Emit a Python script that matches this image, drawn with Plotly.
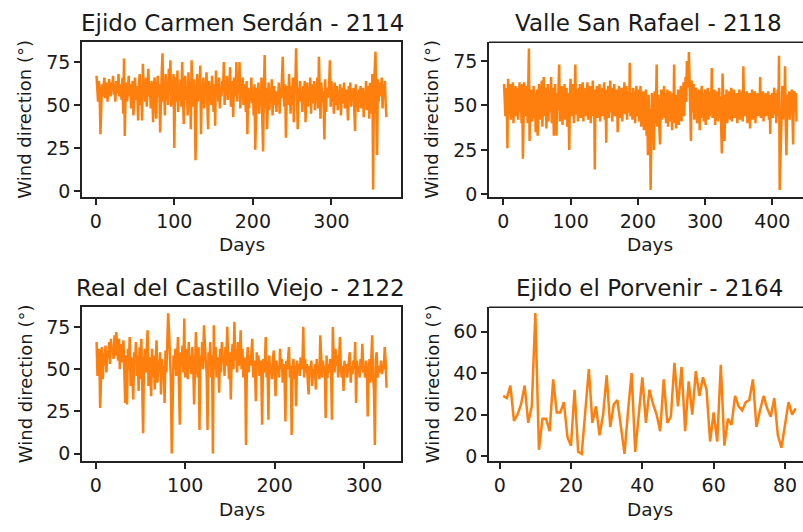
import plotly.graph_objects as go

# ---------------- data ----------------
titles = ["Ejido Carmen Serdán - 2114", "Valle San Rafael - 2118",
          "Real del Castillo Viejo - 2122", "Ejido el Porvenir - 2164"]

carmen_serdan = [
    67, 60, 52, 64, 58, 33, 49, 62, 55, 60,
    66, 54, 60, 63, 52, 58, 65, 61, 55, 63,
    59, 67, 56, 62, 52, 64, 60, 57, 68, 55,
    62, 58, 53, 66, 45, 77, 32, 58, 63, 52,
    60, 67, 55, 62, 48, 58, 64, 44, 59, 66,
    53, 61, 57, 41, 63, 68, 50, 59, 41, 74,
    58, 62, 52, 66, 49, 60, 71, 55, 62, 48,
    64, 57, 40, 61, 66, 52, 42, 59, 67, 55,
    62, 34, 57, 69, 80, 52, 62, 44, 68, 56,
    60, 50, 71, 58, 76, 49, 63, 55, 68, 25,
    59, 66, 52, 70, 46, 61, 57, 65, 49, 75,
    56, 39, 62, 67, 53, 60, 44, 69, 57, 63,
    36, 76, 58, 49, 65, 55, 18, 61, 68, 52,
    63, 57, 73, 33, 60, 55, 66, 48, 62, 57,
    69, 51, 36, 64, 58, 61, 50, 67, 55, 46,
    62, 38, 70, 57, 63, 52, 66, 48, 60, 55,
    64, 59, 75, 50, 61, 56, 67, 53, 62, 58,
    72, 49, 64, 57, 43, 66, 60, 55, 75, 52,
    63, 58, 75, 48, 61, 55, 66, 50, 59, 62,
    46, 64, 33, 60, 48, 57, 52, 66, 51, 58,
    44, 62, 24, 55, 60, 50, 63, 45, 58, 52,
    66, 40, 23, 57, 79, 48, 60, 36, 55, 63,
    47, 59, 53, 65, 44, 56, 61, 50, 58, 46,
    58, 52, 63, 45, 60, 54, 66, 78, 57, 49,
    62, 31, 55, 61, 50, 68, 57, 45, 61, 53,
    66, 40, 59, 62, 83, 48, 36, 60, 55, 64,
    52, 58, 46, 61, 55, 64, 40, 57, 63, 49,
    60, 54, 66, 45, 62, 57, 51, 64, 47, 59,
    53, 66, 48, 78, 56, 42, 63, 55, 58, 50,
    30, 65, 46, 60, 54, 57, 62, 76, 49, 64,
    52, 59, 45, 63, 56, 50, 61, 47, 58, 53,
    62, 44, 57, 60, 51, 63, 48, 56, 59, 52,
    41, 61, 55, 63, 49, 58, 53, 60, 45, 35,
    62, 50, 57, 46, 59, 53, 61, 48, 55, 60,
    43, 58, 52, 64, 47, 56, 61, 42, 63, 55,
    45, 68, 1, 60, 70, 81, 47, 21, 65, 52,
    63, 55, 58, 66, 48, 62, 57, 64, 50, 43,
]

valle_san_rafael = [
    62, 50, 44, 60, 52, 26, 65, 45, 58, 62,
    42, 60, 50, 63, 40, 57, 48, 61, 44, 59,
    60, 42, 56, 63, 46, 60, 40, 62, 20, 54,
    63, 44, 58, 48, 61, 40, 55, 82, 30, 57,
    46, 59, 41, 55, 61, 43, 57, 35, 50, 59,
    33, 55, 62, 42, 58, 46, 64, 38, 54, 66,
    44, 57, 60, 37, 50, 62, 41, 58, 46, 61,
    66, 40, 55, 60, 33, 50, 62, 43, 33, 57,
    47, 60, 73, 41, 56, 45, 61, 39, 58, 48,
    62, 42, 55, 60, 38, 57, 46, 25, 55, 65,
    44, 58, 48, 62, 40, 56, 73, 45, 59, 50,
    41, 60, 50, 62, 43, 57, 48, 63, 41, 58,
    46, 60, 44, 56, 63, 42, 58, 48, 61, 40,
    57, 47, 64, 44, 56, 14, 59, 48, 61, 43,
    57, 49, 62, 41, 58, 46, 60, 44, 56, 63,
    42, 55, 29, 59, 47, 61, 43, 56, 64, 46,
    57, 41, 60, 48, 62, 44, 56, 46, 59, 35,
    55, 61, 43, 57, 48, 60, 41, 58, 47, 63,
    45, 56, 61, 42, 58, 48, 46, 74, 44, 57,
    50, 42, 60, 47, 58, 40, 56, 61, 44, 55,
    59, 41, 54, 61, 38, 57, 46, 58, 36, 55,
    44, 59, 33, 50, 22, 56, 41, 48, 2.5, 43,
    57, 34, 50, 25, 58, 40, 48, 73, 38, 56,
    43, 32, 28, 52, 59, 42, 56, 46, 61, 43,
    57, 40, 53, 59, 38, 56, 45, 58, 41, 54,
    36, 57, 43, 73, 40, 53, 37, 56, 42, 59,
    39, 55, 45, 61, 41, 58, 48, 63, 44, 59,
    66, 52, 75, 70, 60, 80, 66, 55, 30, 64,
    58, 46, 62, 42, 57, 48, 60, 40, 56, 45,
    59, 36, 55, 43, 61, 47, 57, 41, 54, 59,
    39, 56, 46, 60, 42, 55, 44, 58, 48, 71,
    43, 57, 47, 59, 39, 56, 45, 58, 41, 54,
    60, 43, 55, 37, 23, 68, 46, 42, 30, 56,
    48, 59, 40, 55, 45, 58, 42, 54, 60, 41,
    56, 46, 59, 43, 55, 45, 57, 40, 56, 48,
    59, 42, 55, 46, 58, 41, 72, 49, 44, 56,
    47, 58, 40, 54, 45, 57, 37, 55, 46, 59,
    42, 56, 47, 58, 40, 54, 45, 57, 44, 55,
    47, 66, 43, 56, 46, 58, 41, 54, 45, 57,
    44, 55, 47, 58, 42, 54, 34, 56, 46, 57,
    43, 55, 60, 45, 57, 40, 53, 59, 44, 78,
    2.5, 18, 40, 56, 61, 42, 58, 46, 72, 41,
    22, 44, 56, 46, 58, 42, 55, 48, 59, 45,
    28, 56, 58, 46, 57, 41,
]

castillo_viejo = [
    66, 46, 58, 62, 27, 55, 63, 44, 60, 52,
    64, 48, 61, 57, 66, 53, 68, 60, 63, 56,
    70, 58, 72, 64, 55, 68, 50, 65, 60, 54,
    67, 45, 30, 58, 29, 62, 50, 69, 40, 57,
    48, 32, 60, 54, 66, 46, 58, 37, 63, 44,
    68, 36, 12, 55, 62, 48, 66, 73, 40, 57,
    50, 34, 62, 45, 58, 38, 53, 67, 42, 55,
    48, 60, 35, 56, 45, 52, 30, 61, 48, 70,
    83, 72, 55, 44, 0, 38, 58, 50, 62, 46,
    56, 69, 42, 17, 60, 52, 64, 48, 80, 45,
    62, 55, 44, 66, 50, 58, 47, 63, 52, 29,
    60, 72, 55, 45, 63, 14, 58, 52, 66, 50,
    76, 62, 55, 48, 14, 60, 52, 66, 45, 58,
    0, 76, 50, 63, 45, 57, 52, 36, 62, 48,
    66, 54, 58, 46, 63, 52, 75, 57, 44, 60,
    32, 58, 65, 50, 78, 55, 62, 48, 66, 52,
    58, 73, 50, 62, 45, 57, 52, 5, 55, 63,
    48, 58, 52, 60, 68, 45, 55, 50, 31, 60,
    52, 58, 46, 55, 50, 17, 56, 48, 52, 69,
    45, 55, 20, 58, 48, 52, 44, 56, 61, 50,
    34, 55, 48, 52, 45, 62, 50, 56, 42, 53,
    47, 19, 55, 50, 58, 63, 45, 52, 11, 50,
    56, 44, 52, 28, 55, 48, 53, 46, 57, 50,
    52, 75, 45, 56, 48, 53, 43, 35, 52, 47,
    55, 40, 50, 45, 53, 38, 56, 48, 52, 44,
    70, 50, 45, 55, 48, 52, 21, 58, 45, 53,
    48, 56, 50, 20, 75, 55, 48, 62, 52, 58,
    45, 55, 69, 50, 45, 52, 37, 55, 48, 53,
    45, 50, 56, 60, 42, 52, 47, 55, 50, 66,
    30, 55, 48, 52, 45, 56, 50, 65, 48, 52,
    45, 55, 50, 22, 48, 56, 42, 52, 70, 45,
    38, 5, 55, 60, 45, 52, 48, 50, 55, 47,
    52, 50, 63, 55, 39,
]

el_porvenir = [
    29, 28, 34, 17, 20, 25, 34, 16, 24, 69,
    3, 18, 18, 12, 37, 21, 21, 26, 9, 5,
    32, 2, 1, 20, 42, 16, 24, 10, 20, 39,
    14, 25, 27, 14, 1, 22, 40, 2, 20, 38,
    16, 32, 25, 20, 12, 37, 16, 19, 45, 24,
    43, 12, 36, 20, 41, 29, 38, 32, 7, 21,
    7, 44, 5, 18, 15, 29, 24, 22, 26, 27,
    37, 14, 22, 29, 23, 19, 28, 10, 4, 16,
    26, 20, 23,
]

series = [carmen_serdan, valle_san_rafael, castillo_viejo, el_porvenir]

x_ticks = [[0, 100, 200, 300], [0, 100, 200, 300, 400],
           [0, 100, 200, 300], [0, 20, 40, 60, 80]]
y_ticks = [[0, 25, 50, 75], [0, 25, 50, 75], [0, 25, 50, 75], [0, 20, 40, 60]]

# ---------------- layout ----------------
W, H = 803, 532
FONT = "DejaVu Sans"
TXT = "#1a1a1a"
AX = "#222222"
ORANGE = "#ff7f0e"

# panel pixel boxes: (left, right, top, bottom)
boxes = [(82, 401, 43, 200), (489, 803, 43, 200),
         (82, 401, 312, 468), (489, 803, 312, 468)]
x_ranges = [[-17.45, 388.45], [-21.4, 445.7], [-15.3, 341.2], [-3.0, 85.05]]
y_ranges = [[-3.4, 86.4], [-1.5, 85.5], [-4.4, 86.6], [-2.4, 71.8]]
title_cx = [242, 648, 241, 649]
title_cy = [23, 23, 292, 292]
ylab_cx = [25, 432, 25, 432]
days_cx = [242, 650, 242, 650]
days_cy = [248, 248, 517, 517]

fig = go.Figure()
annotations = []
shapes = []
for i, (vals, (l, r, t, b)) in enumerate(zip(series, boxes)):
    n = i + 1
    sfx = "" if n == 1 else str(n)
    days = list(range(1, len(vals) + 1))
    fig.add_trace(go.Scatter(x=days, y=vals, mode="lines",
                             line=dict(color=ORANGE, width=2.5),
                             xaxis="x" + sfx, yaxis="y" + sfx,
                             showlegend=False, hoverinfo="skip"))
    right_col = i in (1, 3)
    fig.layout["xaxis" + sfx] = dict(
        domain=[l / W, r / W], anchor="y" + sfx, range=x_ranges[i],
        tickvals=x_ticks[i], ticks="outside", ticklen=6, tickwidth=1.5,
        tickcolor=AX, showline=True, linecolor=AX, linewidth=1.5,
        mirror=not right_col, showgrid=False, zeroline=False,
        tickfont=dict(family=FONT, size=19, color=TXT))
    fig.layout["yaxis" + sfx] = dict(
        domain=[1 - b / H, 1 - t / H], anchor="x" + sfx, range=y_ranges[i],
        tickvals=y_ticks[i], ticks="outside", ticklen=6, tickwidth=1.5,
        tickcolor=AX, showline=True, linecolor=AX, linewidth=1.5,
        mirror=not right_col, showgrid=False, zeroline=False,
        tickfont=dict(family=FONT, size=19, color=TXT))
    if right_col:
        # top spine only (the right spine is cut off by the image edge)
        shapes.append(dict(type="line", xref="paper", yref="paper",
                           x0=l / W, x1=1.0, y0=1 - t / H, y1=1 - t / H,
                           line=dict(color=AX, width=1.5)))
    annotations.append(dict(text=titles[i], xref="paper", yref="paper",
                            x=title_cx[i] / W, y=1 - title_cy[i] / H,
                            xanchor="center", yanchor="middle", showarrow=False,
                            font=dict(family=FONT, size=23, color=TXT)))
    annotations.append(dict(text="Wind direction (°)", xref="paper", yref="paper",
                            x=ylab_cx[i] / W, y=1 - ((t + b) / 2) / H, textangle=-90,
                            xanchor="center", yanchor="middle", showarrow=False,
                            font=dict(family=FONT, size=18, color=TXT)))
    annotations.append(dict(text="Days", xref="paper", yref="paper",
                            x=days_cx[i] / W, y=1 - days_cy[i] / H,
                            xanchor="center", yanchor="middle", showarrow=False,
                            font=dict(family=FONT, size=18.5, color=TXT)))

fig.update_layout(width=W, height=H, margin=dict(l=0, r=0, t=0, b=0),
                  paper_bgcolor="white", plot_bgcolor="white",
                  annotations=annotations, shapes=shapes)

fig.write_html("out.html")
